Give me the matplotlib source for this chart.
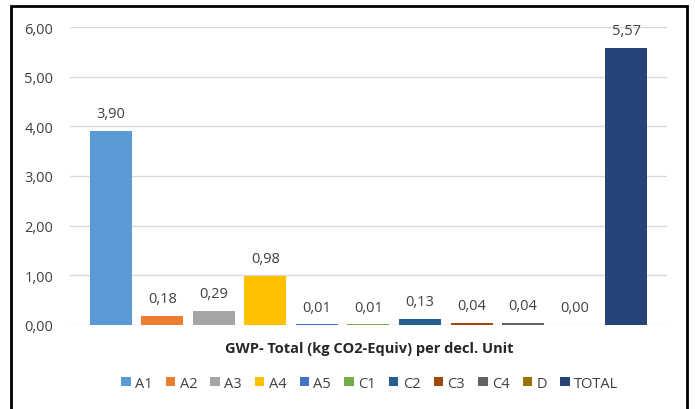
import matplotlib.pyplot as plt
from matplotlib.patches import Rectangle

stages = ['A1', 'A2', 'A3', 'A4', 'A5', 'C1', 'C2', 'C3', 'C4', 'D', 'TOTAL']
gwp = [3.90, 0.18, 0.29, 0.98, 0.01, 0.01, 0.13, 0.04, 0.04, 0.00, 5.57]
colors = ['#5B9BD5', '#ED7D31', '#A5A5A5', '#FFC000', '#4472C4', '#70AD47',
          '#255E91', '#9E480E', '#636363', '#997300', '#264478']
yticks = [0, 1, 2, 3, 4, 5, 6]

plt.rcParams['font.family'] = ['Open Sans', 'DejaVu Sans']

fig = plt.figure(figsize=(6.95, 4.10), dpi=100)
ax = fig.add_axes([0.1007, 0.2049, 0.859, 0.7268])

for i, (s, v, c) in enumerate(zip(stages, gwp, colors)):
    ax.bar(i, v, width=0.815, color=c, label=s, zorder=3)
    ax.text(i, v + 0.2, f'{v:.2f}'.replace('.', ','), ha='center', va='bottom',
            fontsize=10.5, color='#404040')

ax.set_xlim(-0.79, 10.79)
ax.set_ylim(0, 6)
ax.set_yticks(yticks)
ax.set_yticklabels([f'{t:.2f}'.replace('.', ',') for t in yticks], fontsize=10.5, color='#404040')
ax.set_xticks([])
ax.tick_params(axis='y', length=0, pad=12)
ax.grid(axis='y', color='#D9D9D9', linewidth=1, zorder=0)
for sp in ax.spines.values():
    sp.set_visible(False)

fig.text(0.532, 0.149, 'GWP- Total (kg CO2-Equiv) per decl. Unit', ha='center', va='center',
         fontsize=10.5, fontweight='bold', color='#262626')

fig.legend(loc='center', bbox_to_anchor=(0.532, 0.063), ncol=11, frameon=False,
           fontsize=10.5, handlelength=0.65, handleheight=0.65, handletextpad=0.3,
           columnspacing=0.9, labelcolor='#404040')

fig.patches.append(Rectangle((0.016, -0.1), 0.973, 1.083, transform=fig.transFigure,
                             fill=False, edgecolor='black', linewidth=2))

fig.savefig('out.png', dpi=100)
